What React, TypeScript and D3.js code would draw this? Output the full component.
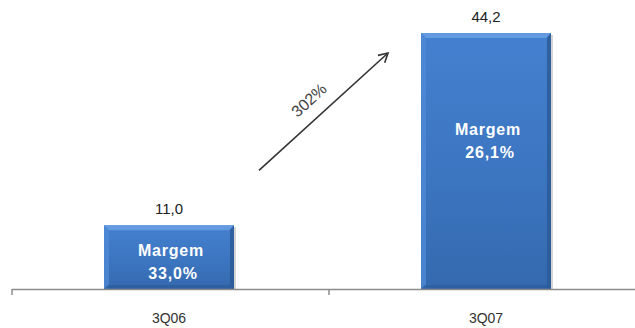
import React from "react";
import * as d3 from "d3";

const categories = ["3Q06", "3Q07"];
const values = [11.0, 44.2];
const valueLabels = ["11,0", "44,2"];
const marginLabels = ["33,0%", "26,1%"];
const growthLabel = "302%";

const W = 635;
const H = 328;
const baseY = 289;

export default function App() {
  const x = d3.scaleBand<string>().domain(categories).range([12, 646]).padding(0);
  const y = d3.scaleLinear().domain([0, 44.2]).range([baseY, 33]);
  const barW = x.bandwidth() * 0.41;
  const cx = (c: string) => (x(c) as number) + x.bandwidth() / 2 - 1.5;
  const textOffsets = [31, 102];

  const ticks = [...categories.map((c) => x(c) as number), 646];

  const a0 = [cx(categories[0]) + 90, y(values[0]) - 55];
  const a1 = [cx(categories[1]) - 98, y(values[1]) + 20];
  const ang = (Math.atan2(a1[1] - a0[1], a1[0] - a0[0]) * 180) / Math.PI;
  const mid = [(a0[0] + a1[0]) / 2, (a0[1] + a1[1]) / 2];
  const perp = (ang - 90) * (Math.PI / 180);
  const lx = mid[0] - 4 + 10 * Math.cos(perp);
  const ly = mid[1] + 10 * Math.sin(perp);

  return (
    <svg width={W} height={H} style={{ position: "absolute", left: 0, top: 0, background: "#fff" }}>
      <defs>
        <linearGradient id="face" x1="0" y1="0" x2="0" y2="1">
          <stop offset="0" stopColor="#4480cf" />
          <stop offset="0.5" stopColor="#3d77c3" />
          <stop offset="1" stopColor="#3469ae" />
        </linearGradient>
        <marker id="ah" viewBox="0 0 12 12" refX="10" refY="6" markerWidth="12" markerHeight="12" markerUnits="userSpaceOnUse" orient="auto">
          <path d="M1,1 L10,6 L1,11" fill="none" stroke="#333" strokeWidth="1.6" />
        </marker>
      </defs>

      {categories.map((c, i) => {
        const x0 = cx(c) - barW / 2;
        const y0 = y(values[i]);
        const h = baseY - y0;
        return (
          <g key={c}>
            <rect x={x0 + 2} y={y0 + 2} width={barW} height={h - 1} fill="#b8b8b8" opacity={0.6} />
            <rect x={x0} y={y0} width={barW} height={h} fill="url(#face)" />
            <polygon points={`${x0},${y0} ${x0 + barW},${y0} ${x0 + barW - 5},${y0 + 5} ${x0 + 5},${y0 + 5}`} fill="#6a9fe3" opacity={0.85} />
            <polygon points={`${x0},${y0} ${x0 + 5},${y0 + 5} ${x0 + 5},${baseY} ${x0},${baseY}`} fill="#4f8ad6" opacity={0.8} />
            <polygon points={`${x0 + barW},${y0} ${x0 + barW - 4},${y0 + 5} ${x0 + barW - 4},${baseY} ${x0 + barW},${baseY}`} fill="#2b5a96" opacity={0.85} />
            <polygon points={`${x0},${baseY} ${x0 + 4},${baseY - 4} ${x0 + barW - 4},${baseY - 4} ${x0 + barW},${baseY}`} fill="#2d5d9c" opacity={0.8} />
            <text x={cx(c)} y={y0 - 11} textAnchor="middle" fontFamily="Liberation Sans, Arial, sans-serif" fontSize={15} fill="#222">
              {valueLabels[i]}
            </text>
            <text x={cx(c) + 2} y={y0 + textOffsets[i]} textAnchor="middle" fontFamily="Liberation Sans, Arial, sans-serif" fontSize={16} fontWeight="bold" letterSpacing={0.8} fill="#fff">
              Margem
            </text>
            <text x={cx(c) + 4} y={y0 + textOffsets[i] + 23} textAnchor="middle" fontFamily="Liberation Sans, Arial, sans-serif" fontSize={16} fontWeight="bold" letterSpacing={0.8} fill="#fff">
              {marginLabels[i]}
            </text>
            <text x={cx(c)} y={323} textAnchor="middle" fontFamily="Liberation Sans, Arial, sans-serif" fontSize={14} fill="#333">
              {c}
            </text>
          </g>
        );
      })}

      <line x1={12} x2={W} y1={baseY + 0.5} y2={baseY + 0.5} stroke="#8c8c8c" strokeWidth={1.5} />
      {ticks.map((t, i) => (
        <line key={i} x1={t} x2={t} y1={baseY} y2={baseY + 6} stroke="#8c8c8c" strokeWidth={1.5} />
      ))}

      <line x1={a0[0]} y1={a0[1]} x2={a1[0]} y2={a1[1]} stroke="#333" strokeWidth={1.6} markerEnd="url(#ah)" />
      <text
        x={lx}
        y={ly}
        transform={`rotate(${ang}, ${lx}, ${ly})`}
        textAnchor="middle"
        fontFamily="Liberation Sans, Arial, sans-serif"
        fontSize={16}
        fill="#444"
      >
        {growthLabel}
      </text>
    </svg>
  );
}
